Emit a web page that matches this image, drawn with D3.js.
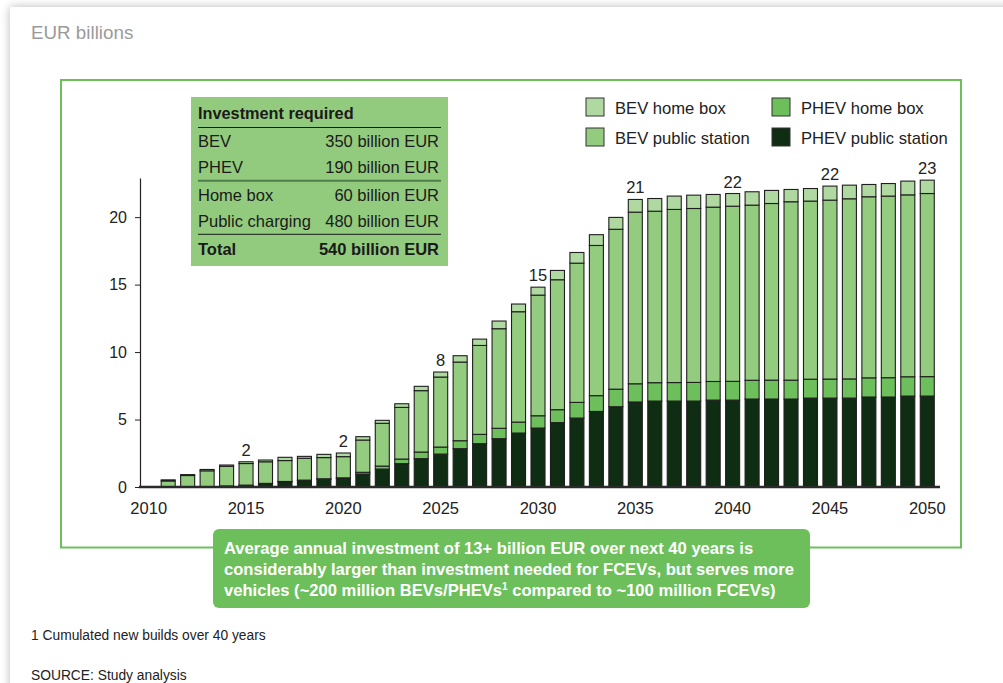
<!DOCTYPE html>
<html>
<head>
<meta charset="utf-8">
<script src="https://cdn.jsdelivr.net/npm/d3@7"></script>
<style>
  html, body { margin: 0; padding: 0; background: #ffffff; overflow: hidden; }
  #card { position: absolute; left: 10px; top: 7px; width: 1020px; height: 720px; background: #fff;
          box-shadow: 0 0 9px rgba(0,0,0,0.28); }
  svg { position: absolute; left: 0; top: 0; font-family: "Liberation Sans", Arial, sans-serif; }
</style>
</head>
<body>
<div id="card"></div>
<svg id="chart" width="1003" height="683"></svg>
<script>
// ---------------- DATA ----------------
const years = [2010, 2011, 2012, 2013, 2014, 2015, 2016, 2017, 2018, 2019, 2020,
               2021, 2022, 2023, 2024, 2025, 2026, 2027, 2028, 2029, 2030,
               2031, 2032, 2033, 2034, 2035, 2036, 2037, 2038, 2039, 2040,
               2041, 2042, 2043, 2044, 2045, 2046, 2047, 2048, 2049, 2050];
const barYears = [2011, 2012, 2013, 2014, 2015, 2016, 2017, 2018, 2019, 2020,
                  2021, 2022, 2023, 2024, 2025, 2026, 2027, 2028, 2029, 2030,
                  2031, 2032, 2033, 2034, 2035, 2036, 2037, 2038, 2039, 2040,
                  2041, 2042, 2043, 2044, 2045, 2046, 2047, 2048, 2049, 2050];
const phevPublic = [0, 0, 0, 0.08, 0.12, 0.25, 0.38, 0.48, 0.58, 0.64,
                    0.96, 1.33, 1.73, 2.10, 2.44, 2.84, 3.21, 3.58, 4.00, 4.37,
                    4.77, 5.11, 5.60, 5.95, 6.30, 6.37, 6.37, 6.37, 6.44, 6.44,
                    6.52, 6.52, 6.52, 6.59, 6.59, 6.59, 6.67, 6.67, 6.74, 6.74];
const phevHome   = [0, 0, 0, 0, 0.02, 0.02, 0.03, 0.03, 0.03, 0.04,
                    0.13, 0.22, 0.34, 0.49, 0.52, 0.59, 0.69, 0.77, 0.81, 0.91,
                    0.96, 1.16, 1.17, 1.30, 1.35, 1.36, 1.37, 1.38, 1.38, 1.39,
                    1.39, 1.40, 1.40, 1.40, 1.41, 1.42, 1.42, 1.43, 1.43, 1.44];
const bevPublic  = [0.45, 0.85, 1.20, 1.45, 1.60, 1.60, 1.55, 1.62, 1.57, 1.57,
                    2.39, 3.17, 3.83, 4.55, 5.19, 5.83, 6.59, 7.38, 8.18, 8.94,
                    9.63, 10.32, 11.13, 11.85, 12.72, 12.71, 12.83, 12.89, 12.92, 12.98,
                    12.98, 13.09, 13.22, 13.20, 13.26, 13.35, 13.42, 13.46, 13.48, 13.57];
const bevHome    = [0.08, 0.07, 0.10, 0.10, 0.13, 0.13, 0.24, 0.14, 0.24, 0.27,
                    0.25, 0.22, 0.27, 0.32, 0.37, 0.47, 0.47, 0.57, 0.57, 0.59,
                    0.69, 0.79, 0.80, 0.88, 0.94, 0.94, 0.99, 0.99, 0.94, 0.94,
                    0.99, 0.97, 0.91, 0.93, 1.04, 1.01, 0.91, 0.93, 1.02, 0.99];
const seriesKeys  = ["PHEV public station", "PHEV home box", "BEV public station", "BEV home box"];
const seriesColors = ["#0e2d12", "#6cbf5b", "#93cc7f", "#afd9a1"];
const yTicks = [0, 5, 10, 15, 20];
const xTickYears = [2010, 2015, 2020, 2025, 2030, 2035, 2040, 2045, 2050];
const labelYears = [2015, 2020, 2025, 2030, 2035, 2040, 2045, 2050];
const labelTexts = ["2", "2", "8", "15", "21", "22", "22", "23"];
const legendOrder = ["BEV home box", "PHEV home box", "BEV public station", "PHEV public station"];
const tableTitle = "Investment required";
const tableRows1 = [["BEV", "350 billion EUR"], ["PHEV", "190 billion EUR"]];
const tableRows2 = [["Home box", "60 billion EUR"], ["Public charging", "480 billion EUR"]];
const tableTotal = ["Total", "540 billion EUR"];
const calloutLines = [
  "Average annual investment of 13+ billion EUR over next 40 years is",
  "considerably larger than investment needed for FCEVs, but serves more",
  "vehicles (~200 million BEVs/PHEVs\u00B9 compared to ~100 million FCEVs)"
];

// ---------------- CHART ----------------
const svg = d3.select("#chart");

svg.append("text").attr("x", 31).attr("y", 39)
  .attr("font-size", 18.8).attr("fill", "#9a9a9a").text("EUR billions");

// green frame
svg.append("rect").attr("x", 61).attr("y", 80).attr("width", 900).attr("height", 467.5)
  .attr("fill", "none").attr("stroke", "#6cbf5b").attr("stroke-width", 2);

const x = d3.scaleBand().domain(years).range([139, 937]).paddingInner(0.28).paddingOuter(0.14);
const y = d3.scaleLinear().domain([0, 22.9]).range([487, 178]);

const rows = barYears.map((yr, i) => ({
  year: yr,
  "PHEV public station": phevPublic[i],
  "PHEV home box": phevHome[i],
  "BEV public station": bevPublic[i],
  "BEV home box": bevHome[i]
}));
const stacked = d3.stack().keys(seriesKeys)(rows);
const color = d3.scaleOrdinal().domain(seriesKeys).range(seriesColors);

const gBars = svg.append("g");
stacked.forEach(layer => {
  gBars.append("g").attr("fill", color(layer.key))
    .selectAll("rect").data(layer.filter(d => d[1] - d[0] > 0)).join("rect")
    .attr("x", d => x(d.data.year))
    .attr("width", x.bandwidth())
    .attr("y", d => y(d[1]))
    .attr("height", d => y(d[0]) - y(d[1]))
    .attr("stroke", "#1f1f1f").attr("stroke-width", 1.1);
});

// value labels
const totals = new Map(rows.map(r => [r.year, seriesKeys.reduce((s, k) => s + r[k], 0)]));
svg.append("g").selectAll("text").data(labelYears).join("text")
  .attr("x", d => x(d) + x.bandwidth() / 2)
  .attr("y", d => y(totals.get(d)) - 6)
  .attr("text-anchor", "middle").attr("font-size", 16.5).attr("fill", "#222")
  .text((d, i) => labelTexts[i]);

// y axis
const yAxis = svg.append("g").attr("transform", "translate(140,0)")
  .call(d3.axisLeft(y).tickValues(yTicks).tickSize(5).tickSizeOuter(0).tickPadding(8));
yAxis.select(".domain").attr("stroke", "#222").attr("stroke-width", 1.2);
yAxis.selectAll(".tick line").attr("stroke", "#222");
yAxis.selectAll("text").attr("font-size", 16).attr("fill", "#222")
  .attr("font-family", "Liberation Sans, Arial, sans-serif");

// x axis
const xAxis = svg.append("g").attr("transform", "translate(0,487)")
  .call(d3.axisBottom(x).tickValues(xTickYears).tickSize(0).tickPadding(15).tickSizeOuter(0));
xAxis.select(".domain").attr("d", "M139,0H940").attr("stroke", "#2a2a2a").attr("stroke-width", 2.5);
xAxis.selectAll("text").attr("font-size", 16.5).attr("fill", "#222")
  .attr("font-family", "Liberation Sans, Arial, sans-serif");

// legend
const legendPos = [[586, 98], [772, 98], [586, 128], [772, 128]];
const lg = svg.append("g").selectAll("g").data(legendOrder).join("g")
  .attr("transform", (d, i) => `translate(${legendPos[i][0]},${legendPos[i][1]})`);
lg.append("rect").attr("width", 18).attr("height", 18)
  .attr("fill", d => color(d)).attr("stroke", "#333").attr("stroke-width", 1);
lg.append("text").attr("x", 29).attr("y", 15.5).attr("font-size", 16.6).attr("fill", "#222").text(d => d);

// investment table
const tb = svg.append("g");
tb.append("rect").attr("x", 191).attr("y", 97).attr("width", 257).attr("height", 169).attr("fill", "#93cb7e");
tb.append("text").attr("x", 198).attr("y", 119).attr("font-size", 16.3).attr("font-weight", "bold")
  .attr("fill", "#1a1a1a").text(tableTitle);
tb.append("line").attr("x1", 198).attr("x2", 441).attr("y1", 127.5).attr("y2", 127.5)
  .attr("stroke", "#1a1a1a").attr("stroke-width", 1);
const rowY1 = [147, 173];
tableRows1.forEach((r, i) => {
  tb.append("text").attr("x", 198).attr("y", rowY1[i]).attr("font-size", 16.5).attr("fill", "#1a1a1a").text(r[0]);
  tb.append("text").attr("x", 439).attr("y", rowY1[i]).attr("font-size", 16.5).attr("fill", "#1a1a1a")
    .attr("text-anchor", "end").text(r[1]);
});
tb.append("line").attr("x1", 198).attr("x2", 441).attr("y1", 180.7).attr("y2", 180.7)
  .attr("stroke", "#4f7d49").attr("stroke-width", 2);
const rowY2 = [201, 226.5];
tableRows2.forEach((r, i) => {
  tb.append("text").attr("x", 198).attr("y", rowY2[i]).attr("font-size", 16.5).attr("fill", "#1a1a1a").text(r[0]);
  tb.append("text").attr("x", 439).attr("y", rowY2[i]).attr("font-size", 16.5).attr("fill", "#1a1a1a")
    .attr("text-anchor", "end").text(r[1]);
});
tb.append("line").attr("x1", 198).attr("x2", 441).attr("y1", 234.3).attr("y2", 234.3)
  .attr("stroke", "#1a1a1a").attr("stroke-width", 1);
tb.append("text").attr("x", 198).attr("y", 255).attr("font-size", 16.5).attr("font-weight", "bold")
  .attr("fill", "#1a1a1a").text(tableTotal[0]);
tb.append("text").attr("x", 439).attr("y", 255).attr("font-size", 16.5).attr("font-weight", "bold")
  .attr("fill", "#1a1a1a").attr("text-anchor", "end").text(tableTotal[1]);

// callout
const co = svg.append("g");
co.append("rect").attr("x", 213).attr("y", 529).attr("width", 597).attr("height", 79)
  .attr("rx", 6).attr("fill", "#6cbf5b");
const coY = [553.5, 575, 596];
calloutLines.forEach((t, i) => {
  const tx = co.append("text").attr("x", 224).attr("y", coY[i]).attr("font-size", 16.6)
    .attr("font-weight", "bold").attr("fill", "#ffffff");
  if (t.includes("\u00B9")) {
    const parts = t.split("\u00B9");
    tx.append("tspan").text(parts[0]);
    tx.append("tspan").attr("font-size", 10).attr("dy", -6).text("1");
    tx.append("tspan").attr("dy", 6).text(parts[1]);
  } else {
    tx.text(t);
  }
});

// footnotes
svg.append("text").attr("x", 31).attr("y", 640).attr("font-size", 13.8).attr("fill", "#222")
  .text("1 Cumulated new builds over 40 years");
svg.append("text").attr("x", 31).attr("y", 680).attr("font-size", 13.8).attr("fill", "#222")
  .text("SOURCE: Study analysis");
</script>
</body>
</html>
